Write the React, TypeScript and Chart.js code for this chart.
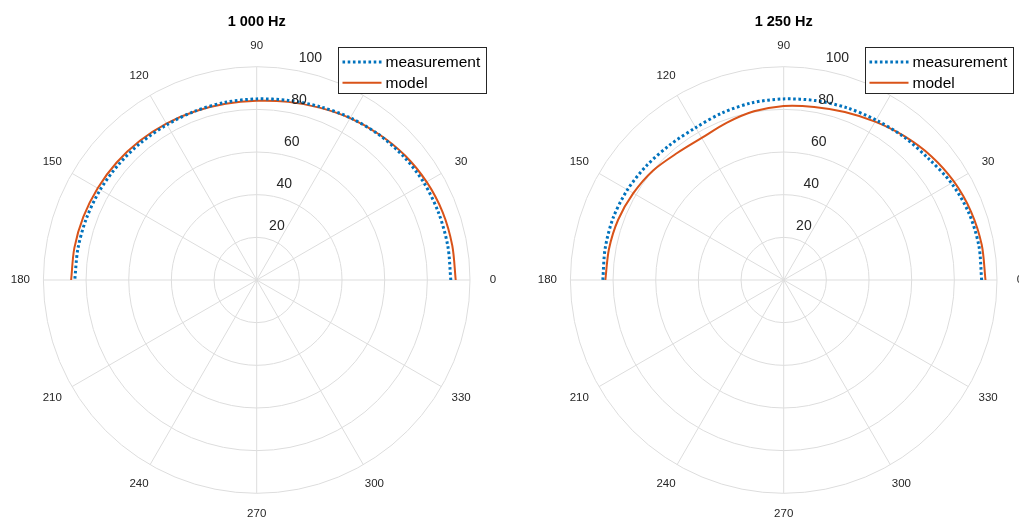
import React, { useEffect, useRef } from 'react';
import { Chart, registerables } from 'chart.js';
Chart.register(...registerables);

// Angles (degrees) at which the curves are sampled
const thetaDeg = [0, 10, 20, 30, 40, 50, 60, 70, 80, 90, 100, 110, 120, 130, 140, 150, 160, 170, 180];

// 1 000 Hz
const meas1000 = [91.0, 91.0, 90.9, 90.7, 90.0, 89.0, 87.8, 86.5, 85.5, 84.9, 84.6, 84.3, 84.1, 84.2, 84.4, 84.7, 84.9, 85.1, 85.3];
const model1000 = [93.3, 93.1, 92.8, 92.0, 90.8, 89.2, 87.6, 86.0, 84.8, 84.0, 83.9, 84.2, 84.7, 85.2, 85.7, 86.1, 86.5, 86.8, 87.0];

// 1 250 Hz
const meas1250 = [92.8, 92.9, 92.3, 90.8, 88.6, 87.6, 86.6, 86.0, 85.4, 84.9, 84.4, 83.5, 82.5, 82.8, 83.7, 84.6, 85.1, 85.0, 84.8];
const model1250 = [94.6, 94.3, 93.5, 92.2, 90.3, 88.0, 85.7, 83.8, 82.4, 81.6, 80.3, 78.4, 76.9, 77.7, 79.9, 81.4, 82.6, 83.2, 83.6];

const thetaTicks = [0, 30, 60, 90, 120, 150, 180, 210, 240, 270, 300, 330];
const rTicks = [20, 40, 60, 80, 100];
const titles = ['1 000 Hz', '1 250 Hz'];
const seriesLabels = ['measurement', 'model'];

const FONT = '"Liberation Sans", Arial, Helvetica, sans-serif';
const GRID = '#dddddd';
const TEXT = '#262626';
const BLUE = '#0072BD';
const ORANGE = '#D95319';

function toXY(theta: number[], r: number[]) {
  return theta.map((t, i) => ({
    x: r[i] * Math.cos((t * Math.PI) / 180),
    y: r[i] * Math.sin((t * Math.PI) / 180),
  }));
}

const polarPlugin = {
  id: 'polarDecor',
  beforeDatasetsDraw(chart: any) {
    const { ctx } = chart;
    const xs = chart.scales.x;
    const ys = chart.scales.y;
    const cx = xs.getPixelForValue(0);
    const cy = ys.getPixelForValue(0);
    const rmax = xs.getPixelForValue(rTicks[rTicks.length - 1]) - cx;
    ctx.save();
    ctx.strokeStyle = GRID;
    ctx.lineWidth = 1;
    rTicks.forEach((r) => {
      const rp = xs.getPixelForValue(r) - cx;
      ctx.beginPath();
      ctx.arc(cx, cy, rp, 0, Math.PI * 2);
      ctx.stroke();
    });
    thetaTicks.forEach((t) => {
      if (t >= 180) return;
      const a = (t * Math.PI) / 180;
      ctx.beginPath();
      ctx.moveTo(cx - rmax * Math.cos(a), cy + rmax * Math.sin(a));
      ctx.lineTo(cx + rmax * Math.cos(a), cy - rmax * Math.sin(a));
      ctx.stroke();
    });
    // theta labels
    ctx.fillStyle = TEXT;
    ctx.font = `11.5px ${FONT}`;
    ctx.textAlign = 'center';
    ctx.textBaseline = 'middle';
    thetaTicks.forEach((t) => {
      const a = (t * Math.PI) / 180;
      const rl = rmax + 21 + 2 * Math.abs(Math.cos(a));
      ctx.fillText(String(t), cx + rl * Math.cos(a), cy - rl * Math.sin(a));
    });
    ctx.restore();
  },
  afterDatasetsDraw(chart: any) {
    const { ctx } = chart;
    const xs = chart.scales.x;
    const ys = chart.scales.y;
    const cx = xs.getPixelForValue(0);
    const cy = ys.getPixelForValue(0);
    ctx.save();
    // radial labels along 80 degrees
    ctx.fillStyle = TEXT;
    ctx.font = `14px ${FONT}`;
    ctx.textAlign = 'left';
    ctx.textBaseline = 'middle';
    const a80 = (80 * Math.PI) / 180;
    rTicks.forEach((r) => {
      const rp = xs.getPixelForValue(r) - cx;
      const px = cx + rp * Math.cos(a80);
      const py = cy - rp * Math.sin(a80);
      ctx.fillText(String(r), px + 5, py - 12);
    });
    // legend
    const bx = Math.round(cx + 81) + 0.5;
    const by = 47.5;
    const bw = 148;
    const bh = 46;
    ctx.fillStyle = '#ffffff';
    ctx.fillRect(bx, by, bw, bh);
    ctx.strokeStyle = '#262626';
    ctx.lineWidth = 1;
    ctx.strokeRect(bx, by, bw, bh);
    const ds = chart.data.datasets;
    ds.forEach((d: any, i: number) => {
      const yy = by + 14.5 + i * 20.7;
      ctx.save();
      ctx.strokeStyle = d.borderColor;
      ctx.lineWidth = d.borderWidth;
      ctx.setLineDash(d.borderDash || []);
      ctx.beginPath();
      ctx.moveTo(bx + 4, yy);
      ctx.lineTo(bx + 43, yy);
      ctx.stroke();
      ctx.restore();
      ctx.fillStyle = '#000000';
      ctx.font = `15.5px ${FONT}`;
      ctx.textAlign = 'left';
      ctx.textBaseline = 'middle';
      ctx.fillText(d.label, bx + 47, yy + 1);
    });
    ctx.restore();
  },
};

type Props = {
  width: number;
  height: number;
  pad: { left: number; right: number; bottom: number };
  title: string;
  meas: number[];
  model: number[];
};

function PolarChart({ width, height, pad, title, meas, model }: Props) {
  const ref = useRef<HTMLCanvasElement>(null);
  useEffect(() => {
    if (!ref.current) return;
    const chart = new Chart(ref.current, {
      type: 'scatter',
      data: {
        datasets: [
          {
            label: seriesLabels[0],
            data: toXY(thetaDeg, meas),
            showLine: true,
            borderColor: BLUE,
            backgroundColor: BLUE,
            borderWidth: 3,
            borderDash: [2.6, 2.6],
            pointRadius: 0,
            tension: 0.3,
            fill: false,
          },
          {
            label: seriesLabels[1],
            data: toXY(thetaDeg, model),
            showLine: true,
            borderColor: ORANGE,
            backgroundColor: ORANGE,
            borderWidth: 2,
            pointRadius: 0,
            tension: 0.3,
            fill: false,
          },
        ],
      },
      options: {
        responsive: false,
        animation: false,
        devicePixelRatio: 1,
        layout: { padding: { left: pad.left, right: pad.right, top: 0, bottom: pad.bottom } },
        scales: {
          x: { type: 'linear', min: -100, max: 100, display: false },
          y: { type: 'linear', min: -100, max: 100, display: false },
        },
        plugins: {
          legend: { display: false },
          tooltip: { enabled: false },
          title: {
            display: true,
            text: title,
            color: '#000000',
            font: { family: FONT, size: 14.5, weight: 'bold', lineHeight: 1.2 },
            padding: { top: 13.5, bottom: 66.7 - 13.5 - 17.4 },
          },
        },
      },
      plugins: [polarPlugin],
    } as any);
    return () => chart.destroy();
  }, [width, height, title, meas, model]);
  return <canvas ref={ref} width={width} height={height} style={{ display: 'block' }} />;
}

export default function App() {
  return (
    <div
      style={{
        position: 'fixed',
        left: 0,
        top: 0,
        width: 1019,
        height: 523,
        background: '#ffffff',
        display: 'flex',
        overflow: 'hidden',
      }}
    >
      <PolarChart
        width={513}
        height={523}
        pad={{ left: 43.4, right: 43, bottom: 29.7 }}
        title={titles[0]}
        meas={meas1000}
        model={model1000}
      />
      <PolarChart
        width={506}
        height={523}
        pad={{ left: 57.4, right: 22, bottom: 29.7 }}
        title={titles[1]}
        meas={meas1250}
        model={model1250}
      />
    </div>
  );
}
